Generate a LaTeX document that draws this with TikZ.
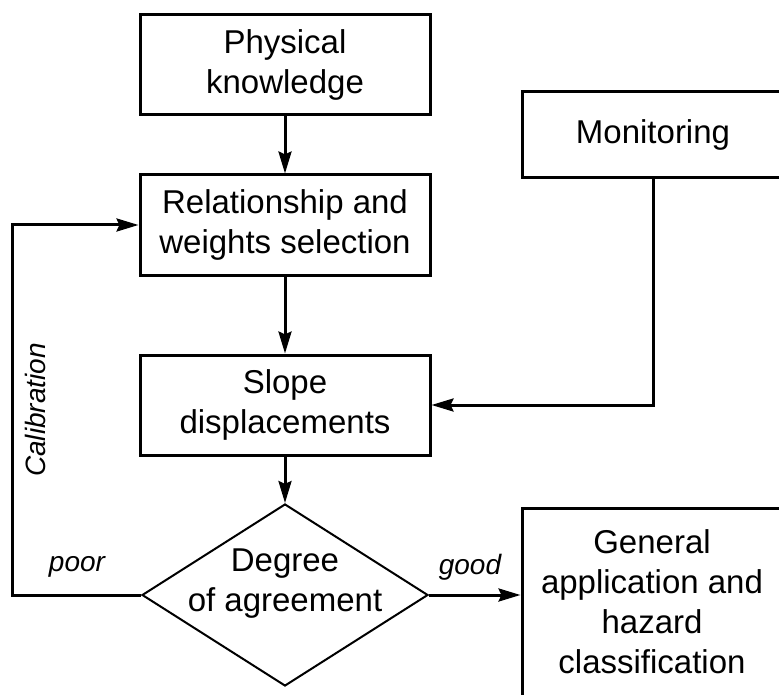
\documentclass[tikz,border=0pt]{standalone}
\usepackage{fontspec}
\setmainfont{Liberation Sans}
\usetikzlibrary{arrows.meta,shapes.geometric}
\begin{document}
\begin{tikzpicture}[x=1pt,y=-1pt,
  box/.style={draw,line width=3pt,align=center,inner sep=0pt,
    font=\fontsize{33}{40}\selectfont},
  txt/.style={align=center,inner sep=0pt,font=\fontsize{33}{40}\selectfont},
  lab/.style={inner sep=0pt,font=\fontsize{28}{34}\selectfont\itshape},
  conn/.style={line width=3pt,-{Stealth[length=22pt,width=13pt,inset=3pt]}},
  plain/.style={line width=3pt}
]
\useasboundingbox (0,0) rectangle (779,695);
\clip (0,0) rectangle (779,695);
\fill[white] (0,0) rectangle (779,695);

\node[box,minimum width=290pt,minimum height=100pt] (phys) at (285,65) {Physical\\knowledge};
\node[box,minimum width=290pt,minimum height=100pt] (rel) at (285,225) {Relationship and\\weights selection};
\node[box,minimum width=290pt,minimum height=100pt] (slope) at (285,405) {Slope\\displacements};
\node[box,minimum width=262pt,minimum height=86pt] (mon) at (653,135) {Monitoring};
\node[draw,line width=2pt,diamond,minimum width=286pt,minimum height=182pt,inner sep=0pt,aspect=1.57] (dia) at (285,595) {};
\node[txt] (diat) at (285,584) {Degree\\of agreement};
\node[draw,line width=3pt,minimum width=262pt,minimum height=240pt,inner sep=0pt] (gen) at (653,628) {};
\node[txt] (gent) at (652,602) {General\\application and\\hazard\\classification};

\draw[conn] (phys) -- (rel);
\draw[conn] (rel) -- (slope);
\draw[conn] (slope) -- (dia.north);
\draw[conn] (mon.south) |- (slope.east);
\draw[conn] (dia.east) -- (dia.east -| gen.west);
\coordinate (fbl) at (12,595);
\draw[conn] (dia.west) -- (fbl) |- (rel.west);

\node[lab] (poor) at (77,567) {poor};
\node[lab] (good) at (470,567) {good};
\node[lab,rotate=90] (cal) at (35,410) {Calibration};
\end{tikzpicture}
\end{document}
